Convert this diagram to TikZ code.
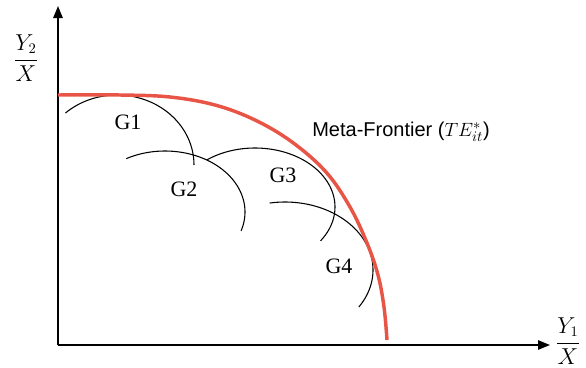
\documentclass[tikz,border=0pt]{standalone}
\usepackage{fontspec}
\setmainfont{Liberation Serif}
\newfontfamily\labelsans{Liberation Sans}
\usetikzlibrary{arrows.meta}
\definecolor{frontred}{RGB}{232,84,70}
\begin{document}
\begin{tikzpicture}[x=0.75pt,y=-0.75pt,
  axis/.style={line width=1.3pt,-{Triangle[length=9pt,width=7pt]}},
  grp/.style={line width=0.8pt,black,samples=60},
  meta/.style={line width=2.6pt,frontred},
  glabel/.style={font=\fontsize{16.5}{18}\selectfont,inner sep=0pt},
  axlabel/.style={font=\fontsize{16}{18}\selectfont,inner sep=0pt}]
\useasboundingbox (0,0) rectangle (586,368);
\coordinate (O) at (58,345);
\coordinate (ytop) at (58,6);
\coordinate (xend) at (550,345);
\draw[axis] (O) -- (ytop);
\draw[axis] (O) -- (xend);
\node[axlabel] (ylab) at (26,58) {$\displaystyle\frac{Y_2}{X}$};
\node[axlabel] (xlab) at (568,341) {$\displaystyle\frac{Y_1}{X}$};
% group frontiers (elliptical arcs)
\draw[grp] plot[domain=132:0] ({117+77*cos(\x)},{165-70*sin(\x)});
\draw[grp] plot[domain=119:-18] ({165+80*cos(\x)},{212-61*sin(\x)});
\draw[grp] plot[domain=127:-35] ({255+80*cos(\x)},{207-59*sin(\x)});
\draw[grp] plot[domain=100:-33] ({285+88*cos(\x)},{270-68*sin(\x)});
% meta frontier
\draw[meta] plot[smooth,tension=0.6] coordinates {(58,95) (120,95) (170,97) (215,105) (255,120) (292,142) (326,172) (350,207) (367,243) (378,275) (384,307) (387,340)};
\node[glabel] (g1) at (128,122) {G1};
\node[glabel] (g2) at (184,189) {G2};
\node[glabel] (g3) at (283,175) {G3};
\node[glabel] (g4) at (339,266) {G4};
\node[inner sep=0pt] (mf) at (401,132) {\labelsans\fontsize{15}{17}\selectfont Meta-Frontier ($TE^{*}_{it}$)};
\end{tikzpicture}
\end{document}
